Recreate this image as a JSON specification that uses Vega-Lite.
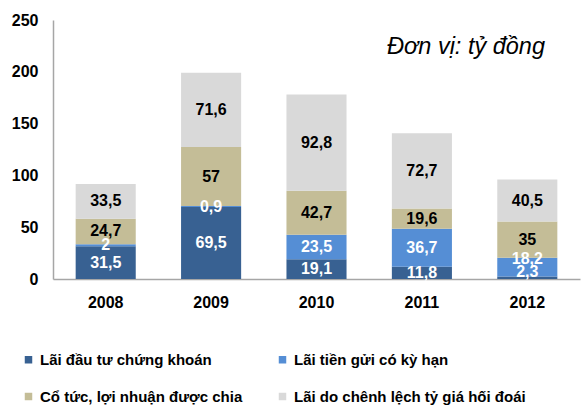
{
  "$schema": "https://vega.github.io/schema/vega-lite/v6.json",
  "width": 527,
  "height": 259,
  "autosize": "none",
  "padding": {"left": 53, "top": 20, "right": 8, "bottom": 126},
  "background": "white",
  "config": {
    "font": "Liberation Sans",
    "locale": {"number": {"decimal": ",", "thousands": ".", "grouping": [3], "currency": ["", ""]}},
    "view": {"stroke": null},
    "axis": {"grid": false, "ticks": false, "domainColor": "#A6A6A6", "domainWidth": 1.5, "labelFont": "Liberation Sans", "labelFontSize": 16, "labelFontWeight": "bold", "labelColor": "#000000", "title": null}
  },
  "title": {"text": "Đơn vị: tỷ đồng", "anchor": "end", "frame": "group", "fontStyle": "italic", "fontWeight": "normal", "fontSize": 23.5, "font": "Liberation Sans", "color": "#000000", "offset": 0, "dx": -35, "dy": 46},
  "data": {"values": [
    {"year": "2008", "series": "Lãi đầu tư chứng khoán", "k": 1, "value": 31.5},
    {"year": "2008", "series": "Lãi tiền gửi có kỳ hạn", "k": 2, "value": 2},
    {"year": "2008", "series": "Cổ tức, lợi nhuận được chia", "k": 3, "value": 24.7},
    {"year": "2008", "series": "Lãi do chênh lệch tỷ giá hối đoái", "k": 4, "value": 33.5},
    {"year": "2009", "series": "Lãi đầu tư chứng khoán", "k": 1, "value": 69.5},
    {"year": "2009", "series": "Lãi tiền gửi có kỳ hạn", "k": 2, "value": 0.9},
    {"year": "2009", "series": "Cổ tức, lợi nhuận được chia", "k": 3, "value": 57},
    {"year": "2009", "series": "Lãi do chênh lệch tỷ giá hối đoái", "k": 4, "value": 71.6},
    {"year": "2010", "series": "Lãi đầu tư chứng khoán", "k": 1, "value": 19.1},
    {"year": "2010", "series": "Lãi tiền gửi có kỳ hạn", "k": 2, "value": 23.5},
    {"year": "2010", "series": "Cổ tức, lợi nhuận được chia", "k": 3, "value": 42.7},
    {"year": "2010", "series": "Lãi do chênh lệch tỷ giá hối đoái", "k": 4, "value": 92.8},
    {"year": "2011", "series": "Lãi đầu tư chứng khoán", "k": 1, "value": 11.8},
    {"year": "2011", "series": "Lãi tiền gửi có kỳ hạn", "k": 2, "value": 36.7},
    {"year": "2011", "series": "Cổ tức, lợi nhuận được chia", "k": 3, "value": 19.6},
    {"year": "2011", "series": "Lãi do chênh lệch tỷ giá hối đoái", "k": 4, "value": 72.7},
    {"year": "2012", "series": "Lãi đầu tư chứng khoán", "k": 1, "value": 2.3},
    {"year": "2012", "series": "Lãi tiền gửi có kỳ hạn", "k": 2, "value": 18.2},
    {"year": "2012", "series": "Cổ tức, lợi nhuận được chia", "k": 3, "value": 35},
    {"year": "2012", "series": "Lãi do chênh lệch tỷ giá hối đoái", "k": 4, "value": 40.5}
  ]},
  "transform": [
    {"stack": "value", "groupby": ["year"], "sort": [{"field": "k", "order": "ascending"}], "as": ["v0", "v1"]},
    {"calculate": "(datum.v0 + datum.v1) / 2", "as": "mid"}
  ],
  "encoding": {
    "x": {"field": "year", "type": "nominal", "scale": {"paddingInner": 0.43, "paddingOuter": 0.215}, "axis": {"labelAngle": 0, "labelPadding": 15}}
  },
  "layer": [
    {
      "mark": {"type": "bar"},
      "encoding": {
        "y": {"field": "v0", "type": "quantitative", "scale": {"domain": [0, 250], "nice": false}, "axis": {"values": [0, 50, 100, 150, 200, 250], "labelPadding": 15}},
        "y2": {"field": "v1"},
        "color": {
          "field": "series", "type": "nominal",
          "scale": {
            "domain": ["Lãi đầu tư chứng khoán", "Lãi tiền gửi có kỳ hạn", "Cổ tức, lợi nhuận được chia", "Lãi do chênh lệch tỷ giá hối đoái"],
            "range": ["#386192", "#558ED5", "#C4BD97", "#D9D9D9"]
          },
          "legend": {
            "title": null, "orient": "none", "legendX": -32, "legendY": 332, "direction": "horizontal", "columns": 2,
            "columnPadding": 32, "rowPadding": 21, "symbolType": "square", "symbolSize": 56, "symbolStrokeWidth": 0,
            "labelFont": "Liberation Sans", "labelFontSize": 15, "labelFontWeight": "bold", "labelColor": "#000000", "labelOffset": 4, "labelLimit": 300
          }
        }
      }
    },
    {
      "transform": [{"filter": "datum.year != '2012' || datum.k > 2"}],
      "mark": {"type": "text", "fontSize": 16, "fontWeight": "bold", "baseline": "middle", "font": "Liberation Sans"},
      "encoding": {
        "y": {"field": "mid", "type": "quantitative"},
        "text": {"field": "value", "type": "quantitative", "format": ".1~f", "formatType": "number"},
        "color": {"condition": {"test": "datum.k <= 2", "value": "white"}, "value": "black"}
      }
    },
    {
      "transform": [{"filter": "datum.year == '2012' && datum.k == 1"}],
      "mark": {"type": "text", "fontSize": 16, "fontWeight": "bold", "baseline": "middle", "font": "Liberation Sans", "dy": -6, "color": "white"},
      "encoding": {
        "y": {"field": "mid", "type": "quantitative"},
        "text": {"field": "value", "type": "quantitative", "format": ".1~f", "formatType": "number"}
      }
    },
    {
      "transform": [{"filter": "datum.year == '2012' && datum.k == 2"}],
      "mark": {"type": "text", "fontSize": 16, "fontWeight": "bold", "baseline": "middle", "font": "Liberation Sans", "dy": -8, "color": "white"},
      "encoding": {
        "y": {"field": "mid", "type": "quantitative"},
        "text": {"field": "value", "type": "quantitative", "format": ".1~f", "formatType": "number"}
      }
    }
  ]
}
